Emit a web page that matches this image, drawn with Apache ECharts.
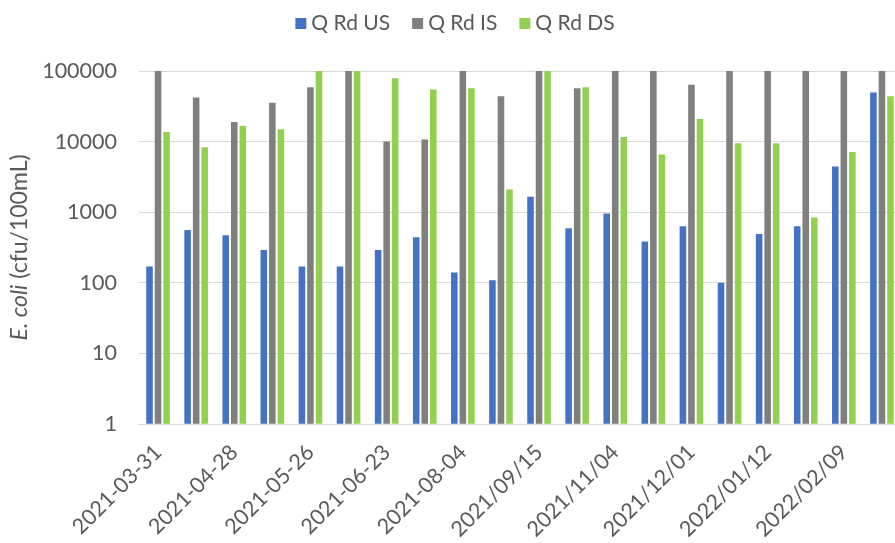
<!DOCTYPE html>
<html>
<head>
<meta charset="utf-8">
<script src="https://cdn.jsdelivr.net/npm/echarts@6/dist/echarts.min.js"></script>
<style>
  html, body { margin: 0; padding: 0; background: #ffffff; overflow: hidden; }
  #chart { width: 910px; height: 543px; }
</style>
</head>
<body>
<div id="chart"></div>
<script>
// Sampling dates (every other one is labelled on the axis)
const dates = [
  '2021-03-31', '2021-04-14', '2021-04-28', '2021-05-12', '2021-05-26',
  '2021-06-09', '2021-06-23', '2021-07-21', '2021-08-04', '2021-08-25',
  '2021/09/15', '2021/10/13', '2021/11/04', '2021/11/17', '2021/12/01',
  '2021/12/15', '2022/01/12', '2022/01/26', '2022/02/09', '2022/02/23'
];

// E. coli counts (cfu/100mL) per site
const qRdUS = [170, 560, 470, 290, 170, 170, 290, 440, 140, 108,
               1650, 590, 960, 385, 630, 100, 490, 630, 4450, 49500];
const qRdIS = [100000, 42000, 19000, 35500, 59000, 100000, 10000, 10700, 100000, 44000,
               100000, 57000, 100000, 100000, 64000, 100000, 100000, 100000, 100000, 100000];
const qRdDS = [13700, 8300, 16800, 14900, 100000, 100000, 79000, 54600, 57000, 2100,
               100000, 59000, 11600, 6560, 20800, 9500, 9500, 840, 7100, 44000];

const seriesNames = ['Q Rd US', 'Q Rd IS', 'Q Rd DS'];
const seriesData = [qRdUS, qRdIS, qRdDS];
const seriesColors = ['#4472C4', '#7F7F7F', '#92D050'];

const textColor = '#595959';
const fontFamily = 'Lato, "Liberation Sans", sans-serif';

const chart = echarts.init(document.getElementById('chart'), null, { renderer: 'canvas' });

chart.setOption({
  animation: false,
  textStyle: { fontFamily: fontFamily },
  legend: {
    top: 8,
    left: 'center',
    itemWidth: 11,
    itemHeight: 11,
    itemGap: 22,
    icon: 'rect',
    textStyle: { color: textColor, fontSize: 21, fontFamily: fontFamily },
    data: seriesNames
  },
  grid: { left: 139, right: 9, top: 71, bottom: 117, containLabel: false },
  xAxis: {
    type: 'category',
    data: dates,
    axisLine: { show: true, lineStyle: { color: '#D9D9D9', width: 1 } },
    axisTick: { show: false },
    axisLabel: {
      interval: 1,
      rotate: 45,
      margin: 25,
      color: textColor,
      fontSize: 21.5,
      fontFamily: fontFamily
    },
    splitLine: { show: false }
  },
  yAxis: {
    type: 'log',
    logBase: 10,
    min: 1,
    max: 100000,
    axisLine: { show: false },
    axisTick: { show: false },
    axisLabel: {
      color: textColor,
      fontSize: 21.5,
      margin: 22,
      fontFamily: fontFamily,
      formatter: (v) => String(Math.round(v))
    },
    splitLine: { show: true, lineStyle: { color: '#D9D9D9', width: 1 } },
    name: '{i|E. coli} (cfu/100mL)',
    nameLocation: 'middle',
    nameRotate: 90,
    nameGap: 106,
    nameTextStyle: {
      color: textColor,
      fontSize: 23,
      fontFamily: fontFamily,
      rich: {
        i: { fontStyle: 'italic', color: textColor, fontSize: 23, fontFamily: fontFamily }
      }
    }
  },
  series: seriesNames.map((name, k) => ({
    name: name,
    type: 'bar',
    data: seriesData[k],
    barGap: '30%',
    barCategoryGap: '38%',
    itemStyle: { color: seriesColors[k] }
  }))
});
</script>
</body>
</html>
